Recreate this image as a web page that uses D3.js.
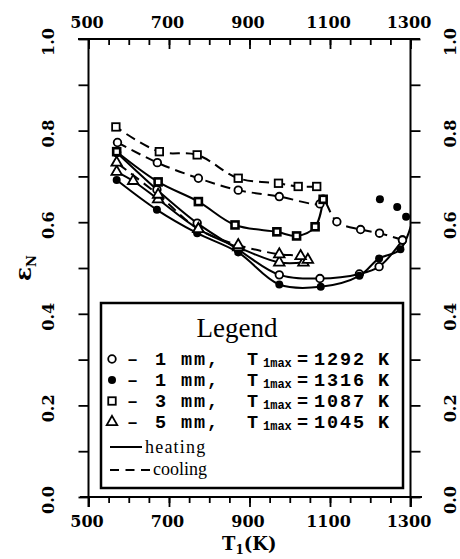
<!DOCTYPE html>
<html><head><meta charset="utf-8">
<script src="https://cdn.jsdelivr.net/npm/d3@7"></script>
<style>body{margin:0;background:#fff} svg{display:block}</style>
</head><body>
<script>
// ---- data ----
const xTicks = [500, 700, 900, 1100, 1300];
const yTicks = [0.0, 0.2, 0.4, 0.6, 0.8, 1.0];

const openHeatT = [570, 670, 770, 872, 974, 1075, 1173, 1222, 1280];
const openHeatE = [0.752, 0.671, 0.598, 0.540, 0.485, 0.477, 0.487, 0.503, 0.561];
const openCoolT = [1280, 1223, 1176, 1117, 1083, 1075, 974, 872, 773, 671, 572];
const openCoolE = [0.561, 0.576, 0.584, 0.601, 0.650, 0.640, 0.656, 0.670, 0.696, 0.730, 0.774];

const fullHeatT = [570, 670, 770, 872, 974, 1077, 1173, 1222, 1275, 1316];
const fullHeatE = [0.692, 0.627, 0.576, 0.534, 0.464, 0.459, 0.483, 0.521, 0.541, 0.640];
const fullCoolT = [1224, 1267, 1289];
const fullCoolE = [0.650, 0.633, 0.612];

const sqHeatT = [570, 673, 773, 864, 968, 1017, 1063, 1083];
const sqHeatE = [0.754, 0.688, 0.645, 0.594, 0.579, 0.570, 0.590, 0.650];
const sqCoolT = [1067, 1021, 972, 872, 770, 676, 568];
const sqCoolE = [0.678, 0.678, 0.685, 0.696, 0.747, 0.754, 0.808];

const triHeatT = [570, 611, 673, 773, 872, 974, 1034];
const triHeatE = [0.710, 0.690, 0.650, 0.585, 0.545, 0.512, 0.512];
const triCoolT = [1045, 1027, 974, 872, 773, 673, 570];
const triCoolE = [0.518, 0.526, 0.530, 0.550, 0.585, 0.660, 0.730];

const legendRows = [
  {sym: "circleOpen", num: "1", tmax: "1292"},
  {sym: "circleFull", num: "1", tmax: "1316"},
  {sym: "square", num: "3", tmax: "1087"},
  {sym: "triangle", num: "5", tmax: "1045"}
];

// ---- layout ----
const W = 460, H = 559;
const x = d3.scaleLinear().domain([500, 1300]).range([88.5, 410.5]);
const y = d3.scaleLinear().domain([0, 1]).range([497, 39]);
const TICKFONT = "'DejaVu Serif', serif";

const svg = d3.select("body").append("svg").attr("width", W).attr("height", H);

svg.append("defs").append("clipPath").attr("id", "plot")
  .append("rect").attr("x", x(500)).attr("y", y(1)).attr("width", x(1300) - x(500)).attr("height", y(0) - y(1));

const minorX = d3.range(500, 1301, 50);
const yMinor = d3.range(0, 11).map(d => d / 10);

function styleAxis(g) {
  g.select(".domain").remove();
  g.selectAll("line").attr("stroke", "#000").attr("stroke-width", 1.8);
  g.selectAll("text").attr("font-family", TICKFONT).attr("font-weight", "bold").attr("font-size", 16).attr("fill", "#000");
}

// top axis: ticks pointing inward
svg.append("g").attr("transform", `translate(0,${y(1)})`)
  .call(d3.axisBottom(x).tickValues(minorX).tickSize(6).tickFormat("")).call(styleAxis);
svg.append("g").attr("transform", `translate(0,${y(1)})`)
  .call(d3.axisBottom(x).tickValues(xTicks).tickSize(10).tickFormat("")).call(styleAxis);
svg.append("g").attr("transform", `translate(-2,${y(1)})`)
  .call(d3.axisTop(x).tickValues(xTicks).tickSize(0).tickPadding(11).tickFormat(d3.format("d"))).call(styleAxis);

// bottom axis: ticks pointing outward
svg.append("g").attr("transform", `translate(0,${y(0)})`)
  .call(d3.axisBottom(x).tickValues(minorX).tickSize(6).tickFormat("")).call(styleAxis);
svg.append("g").attr("transform", `translate(0,${y(0)})`)
  .call(d3.axisBottom(x).tickValues(xTicks).tickSize(10).tickFormat("")).call(styleAxis);
svg.append("g").attr("transform", `translate(-2,${y(0)})`)
  .call(d3.axisBottom(x).tickValues(xTicks).tickSize(0).tickPadding(19).tickFormat(d3.format("d"))).call(styleAxis);

// left / right ticks
svg.append("g").attr("transform", `translate(${x(500)},0)`)
  .call(d3.axisLeft(y).tickValues(yMinor).tickSize(10).tickFormat("")).call(styleAxis);
svg.append("g").attr("transform", `translate(${x(1300)},0)`)
  .call(d3.axisRight(y).tickValues(yMinor).tickSize(10).tickFormat("")).call(styleAxis);

// rotated y tick labels, both sides
[48, 450].forEach(px => {
  svg.append("g").selectAll("text").data(yTicks).join("text")
    .attr("transform", d => `translate(${px},${y(d) + 3}) rotate(-90)`)
    .attr("text-anchor", "middle").attr("dominant-baseline", "central")
    .attr("font-family", TICKFONT).attr("font-weight", "bold").attr("font-size", 16)
    .text(d3.format(".1f"));
});

// frame lines (extending past corners)
const frame = svg.append("g").attr("stroke", "#000").attr("stroke-width", 2);
frame.append("line").attr("x1", 78).attr("x2", 420).attr("y1", y(1)).attr("y2", y(1));
frame.append("line").attr("x1", 80).attr("x2", 422).attr("y1", y(0)).attr("y2", y(0));
frame.append("line").attr("x1", x(500)).attr("x2", x(500)).attr("y1", y(1)).attr("y2", y(0) + 10);
frame.append("line").attr("x1", x(1300)).attr("x2", x(1300)).attr("y1", y(1)).attr("y2", y(0) + 10);

// axis titles
const xt = svg.append("text").attr("x", 222).attr("y", 550)
  .attr("font-family", TICKFONT).attr("font-weight", "bold").attr("font-size", 18);
xt.append("tspan").text("T");
xt.append("tspan").attr("font-size", 12).attr("dy", 4).text("1");
xt.append("tspan").attr("dy", -4).text("(K)");

const yt = svg.append("text").attr("transform", "translate(31,268) rotate(-90)")
  .attr("text-anchor", "middle").attr("font-family", TICKFONT).attr("font-weight", "bold").attr("font-size", 23);
yt.append("tspan").text("ε");
yt.append("tspan").attr("font-size", 13).attr("dy", 5).text("N");

// ---- data marks ----
const plot = svg.append("g").attr("clip-path", "url(#plot)");
const line = d3.line().x(d => x(d[0])).y(d => y(d[1])).curve(d3.curveCatmullRom.alpha(0.5));
const zip = (T, E) => T.map((t, i) => [t, E[i]]);

const series = [
  {T: openHeatT, E: openHeatE, dash: null, sym: "circleOpen"},
  {T: openCoolT, E: openCoolE, dash: "10,6", sym: "circleOpen"},
  {T: fullHeatT, E: fullHeatE, dash: null, sym: "circleFull"},
  {T: fullCoolT, E: fullCoolE, dash: "none", sym: "circleFull"},
  {T: sqHeatT, E: sqHeatE, dash: null, sym: "squareHeat"},
  {T: sqCoolT, E: sqCoolE, dash: "10,6", sym: "square"},
  {T: triHeatT, E: triHeatE, dash: null, sym: "triangle"},
  {T: triCoolT, E: triCoolE, dash: "10,6", sym: "triangle"}
];

series.forEach(s => {
  if (s.dash === "none") return;
  plot.append("path").datum(zip(s.T, s.E)).attr("d", line)
    .attr("fill", "none").attr("stroke", "#000").attr("stroke-width", 2)
    .attr("stroke-dasharray", s.dash);
});

function drawSym(g, kind, cx, cy) {
  if (kind === "circleOpen") {
    g.append("circle").attr("cx", cx).attr("cy", cy).attr("r", 3.8).attr("fill", "#fff").attr("stroke", "#000").attr("stroke-width", 1.8);
  } else if (kind === "circleFull") {
    g.append("circle").attr("cx", cx).attr("cy", cy).attr("r", 4).attr("fill", "#000");
  } else if (kind === "square" || kind === "squareHeat") {
    const s = kind === "square" ? 7.5 : 7;
    g.append("rect").attr("x", cx - s / 2).attr("y", cy - s / 2).attr("width", s).attr("height", s)
      .attr("fill", "#fff").attr("stroke", "#000").attr("stroke-width", kind === "square" ? 1.8 : 2.6);
  } else if (kind === "triangle") {
    g.append("path").attr("transform", `translate(${cx},${cy})`)
      .attr("d", d3.symbol().type(d3.symbolTriangle).size(48)())
      .attr("fill", "#fff").attr("stroke", "#000").attr("stroke-width", 1.8);
  }
}

series.forEach(s => {
  zip(s.T, s.E).forEach(d => drawSym(plot, s.sym, x(d[0]), y(d[1])));
});

// ---- legend ----
const lg = svg.append("g");
lg.append("rect").attr("x", 101).attr("y", 303).attr("width", 302).attr("height", 185)
  .attr("fill", "#fff").attr("stroke", "#000").attr("stroke-width", 2.5);
lg.append("text").attr("x", 237).attr("y", 337).attr("text-anchor", "middle")
  .attr("font-family", "'Liberation Serif', serif").attr("font-size", 27).text("Legend");

const MONO = "'Liberation Mono', monospace";
legendRows.forEach((r, i) => {
  const base = 365 + i * 21;
  drawSym(lg, r.sym, 112, base - 6);
  const t = lg.append("text").attr("y", base)
    .attr("font-family", MONO).attr("font-weight", "bold").attr("font-size", 18.5)
    .attr("letter-spacing", 1.9);
  t.append("tspan").attr("x", 127).text("–");
  t.append("tspan").attr("x", 155).text(r.num);
  t.append("tspan").attr("x", 181).text("mm,");
  t.append("tspan").attr("x", 247).text("T");
  t.append("tspan").attr("x", 263).attr("dy", 2).attr("font-size", 12).attr("letter-spacing", 0).text("1max");
  t.append("tspan").attr("x", 297).attr("dy", -2).text("=");
  t.append("tspan").attr("x", 314).text(r.tmax);
  t.append("tspan").attr("x", 378).text("K");
});

lg.append("line").attr("x1", 110).attr("x2", 142).attr("y1", 447).attr("y2", 447)
  .attr("stroke", "#000").attr("stroke-width", 2);
lg.append("text").attr("x", 145).attr("y", 453).attr("font-family", "'Liberation Serif', serif")
  .attr("font-size", 18).attr("letter-spacing", 1.2).text("heating");
lg.append("line").attr("x1", 110).attr("x2", 150).attr("y1", 470).attr("y2", 470)
  .attr("stroke", "#000").attr("stroke-width", 2).attr("stroke-dasharray", "9,6.5");
lg.append("text").attr("x", 153).attr("y", 475).attr("font-family", "'Liberation Serif', serif")
  .attr("font-size", 18).text("cooling");
</script>
</body></html>
